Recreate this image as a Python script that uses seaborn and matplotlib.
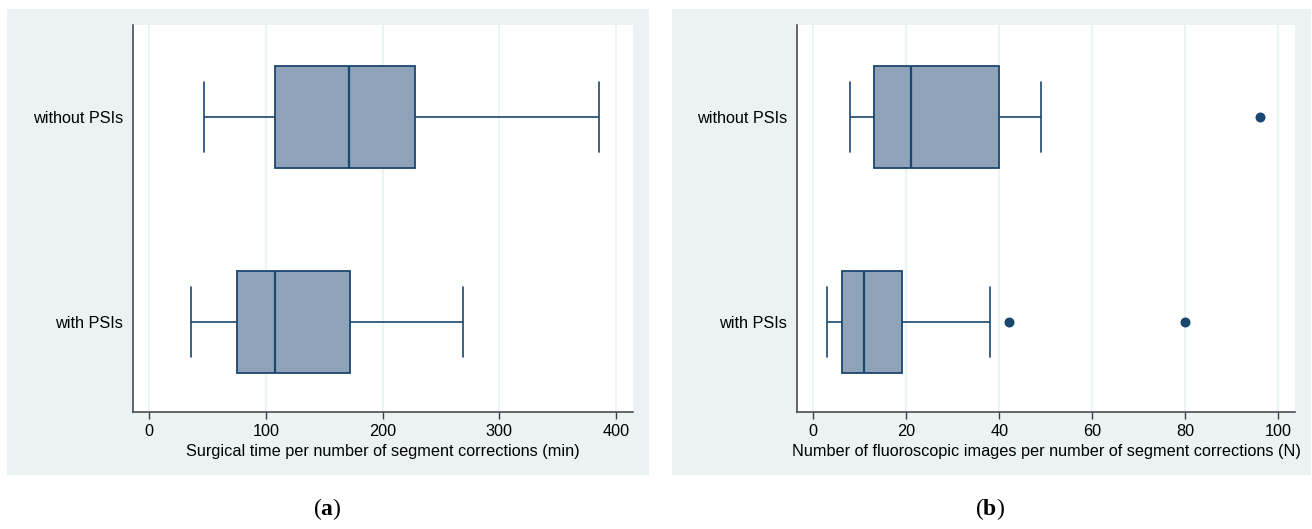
import numpy as np
import pandas as pd
import matplotlib
matplotlib.use("Agg")
import matplotlib.pyplot as plt
from matplotlib.patches import Rectangle
import seaborn as sns

# Groups shown on the vertical axis (top to bottom)
groups = ["without PSIs", "with PSIs"]

# (a) Surgical time per number of segment corrections (min)
time_low = [47, 36]
time_q1 = [108, 75.5]
time_median = [171, 108]
time_q3 = [228, 172]
time_high = [385, 269]
time_outliers = [[], []]

# (b) Fluoroscopic images per number of segment corrections (N)
fluoro_low = [8, 3]
fluoro_q1 = [13, 6.1]
fluoro_median = [21, 11]
fluoro_q3 = [40, 19]
fluoro_high = [49, 38]
fluoro_outliers = [[96], [42, 80]]

time_ticks = [0, 100, 200, 300, 400]
fluoro_ticks = [0, 20, 40, 60, 80, 100]

time_label = "Surgical time per number of segment corrections (min)"
fluoro_label = "Number of fluoroscopic images per number of segment corrections (N)"

BG = "#EAF2F3"
FILL = "#8EA3B8"
NAVY = "#1A476F"
AXIS = "#3C3C3C"

sns.set_theme(style="white")
plt.rcParams["font.family"] = ["Liberation Sans", "DejaVu Sans"]
plt.rcParams["mathtext.fontset"] = "custom"
plt.rcParams["mathtext.rm"] = "Liberation Serif"
plt.rcParams["mathtext.bf"] = "Liberation Serif:bold"

W, H = 1312, 529
fig = plt.figure(figsize=(W / 100, H / 100), dpi=100)
fig.patch.set_facecolor("white")


def px_box(x0, y0, x1, y1):
    """Figure-fraction rectangle from pixel corners (origin top-left)."""
    return [x0 / W, 1 - y1 / H, (x1 - x0) / W, (y1 - y0) / H]


def five_number_frame(low, q1, med, q3, high):
    rows = []
    for g, a, b, c, d, e in zip(groups, low, q1, med, q3, high):
        for v in (a, b, c, d, e):
            rows.append({"group": g, "value": v})
    return pd.DataFrame(rows)


def outlier_frame(outliers):
    rows = []
    for g, vals in zip(groups, outliers):
        for v in vals:
            rows.append({"group": g, "value": v})
    return pd.DataFrame(rows, columns=["group", "value"])


def panel(bg_rect, ax_rect, stats, outliers, ticks, xlim, xlabel, caption, cap_xy):
    # light panel background
    x0, y0, x1, y1 = bg_rect
    fig.patches.append(Rectangle((x0 / W, 1 - y1 / H), (x1 - x0) / W, (y1 - y0) / H,
                                 transform=fig.transFigure, facecolor=BG,
                                 edgecolor="none", zorder=0))
    ax = fig.add_axes(px_box(*ax_rect))
    ax.set_facecolor("white")
    ax.set_zorder(1)

    df = five_number_frame(*stats)
    sns.boxplot(data=df, x="value", y="group", order=groups, whis=(0, 100),
                width=0.5, color=FILL, saturation=1, linecolor=NAVY,
                linewidth=1.3, showfliers=False, ax=ax,
                whiskerprops={"linewidth": 1.2},
                capprops={"linewidth": 1.2},
                medianprops={"linewidth": 1.6})

    # narrower whisker caps
    for line in ax.lines:
        ys = np.asarray(line.get_ydata(), dtype=float)
        xs = np.asarray(line.get_xdata(), dtype=float)
        if len(xs) == 2 and xs[0] == xs[1] and abs(ys[1] - ys[0]) < 0.3:
            c = ys.mean()
            line.set_ydata([c - 0.17, c + 0.17])

    odf = outlier_frame(outliers)
    if len(odf):
        sns.stripplot(data=odf, x="value", y="group", order=groups, jitter=False,
                      color=NAVY, size=7.2, linewidth=0, ax=ax, zorder=5)

    ax.set_xlim(*xlim)
    ax.set_ylim(1.44, -0.45)
    ax.set_xticks(ticks)
    ax.set_xticklabels([str(t) for t in ticks])
    for t in ticks:
        ax.axvline(t, color=BG, linewidth=1.2, zorder=0)
    ax.set_xlabel(xlabel, fontsize=11.7, color="black", labelpad=3)
    ax.set_ylabel("")
    ax.tick_params(axis="x", length=5, width=1, color=AXIS, pad=4,
                   labelsize=11.7, labelcolor="black", direction="out", bottom=True)
    ax.tick_params(axis="y", length=0, pad=7, labelsize=11.7, labelcolor="black")
    for side in ("top", "right"):
        ax.spines[side].set_visible(False)
    for side in ("left", "bottom"):
        ax.spines[side].set_color(AXIS)
        ax.spines[side].set_linewidth(1.1)

    fig.text(cap_xy[0] / W, 1 - cap_xy[1] / H, caption, ha="center", va="center",
             fontsize=17, color="black")
    return ax


panel((7, 9, 649, 475), (133, 25, 633, 412),
      (time_low, time_q1, time_median, time_q3, time_high), time_outliers,
      time_ticks, (-13.7, 414.5), time_label, r"$(\mathbf{a})$", (327, 509))

panel((672, 9, 1311, 475), (797, 25, 1295, 412),
      (fluoro_low, fluoro_q1, fluoro_median, fluoro_q3, fluoro_high), fluoro_outliers,
      fluoro_ticks, (-3.5, 103.6), fluoro_label, r"$(\mathbf{b})$", (990, 509))

fig.savefig("out.png", dpi=100, facecolor="white")
